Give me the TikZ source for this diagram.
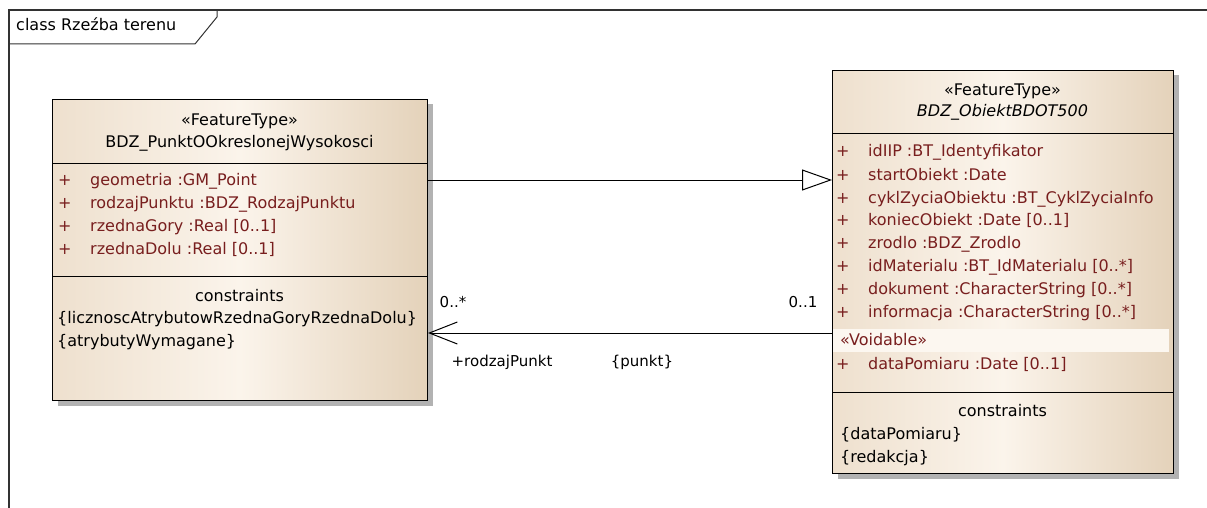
\documentclass[tikz,border=0pt]{standalone}
\usepackage{fontspec}
\setmainfont{DejaVu Sans}
\usetikzlibrary{arrows.meta,shadows}

\definecolor{attrred}{RGB}{120,30,30}
\definecolor{boxlight}{RGB}{251,244,235}
\definecolor{boxedge}{RGB}{238,224,206}
\definecolor{boxdark}{RGB}{228,210,186}
\definecolor{boxband}{RGB}{252,247,240}
\definecolor{framegray}{RGB}{50,50,50}

\begin{document}
\begin{tikzpicture}[x=1pt,y=-1pt,
  every node/.style={font=\fontsize{16}{18}\selectfont, inner sep=0pt, text height=11pt, text depth=3pt},
  classbox/.style={draw, line width=1pt, anchor=north west, rectangle,
    left color=boxedge, right color=boxdark, middle color=boxlight,
    drop shadow={shadow xshift=5pt, shadow yshift=-5pt, fill=black!30, opacity=1}},
  attr/.style={anchor=west, text=attrred},
  plus/.style={anchor=west, text=attrred},
  cons/.style={anchor=west},
  role/.style={font=\fontsize{15}{16}\selectfont}]
\useasboundingbox (0,0) rectangle (1207,508);

% frame
\draw [framegray, line width=1.3pt] (1207,10) -- (9,10) -- (9,508);
\draw [framegray, line width=1pt] (217,10) -- (217,17) -- (195,44) -- (9,44);
\node [anchor=west] (framelabel) at (16,27) {class Rzeźba terenu};

% left class
\node [classbox, minimum width=375pt, minimum height=301pt] (punkt) at (52,99) {};
\draw [line width=1pt] ([yshift=-64pt]punkt.north west) -- ([yshift=-64pt]punkt.north east);
\draw [line width=1pt] ([yshift=-177pt]punkt.north west) -- ([yshift=-177pt]punkt.north east);
\node (punktster) at (239.5,122) {«FeatureType»};
\node (punktname) at (239.5,143) {BDZ\_PunktOOkreslonejWysokosci};
\node [plus] (pp1) at (58,181) {+};
\node [attr] (pa1) at (90,181) {geometria :GM\_Point};
\node [plus] (pp2) at (58,204) {+};
\node [attr] (pa2) at (90,204) {rodzajPunktu :BDZ\_RodzajPunktu};
\node [plus] (pp3) at (58,227) {+};
\node [attr] (pa3) at (90,227) {rzednaGory :Real [0..1]};
\node [plus] (pp4) at (58,250) {+};
\node [attr] (pa4) at (90,250) {rzednaDolu :Real [0..1]};
\node (punktcons) at (239.5,297) {constraints};
\node [cons] (pc1) at (57,319) {\{licznoscAtrybutowRzednaGoryRzednaDolu\}};
\node [cons] (pc2) at (57,342) {\{atrybutyWymagane\}};

% right class
\node [classbox, minimum width=341pt, minimum height=403pt] (obiekt) at (832,70) {};
\draw [line width=1pt] ([yshift=-64pt]obiekt.north west) -- ([yshift=-64pt]obiekt.north east);
\fill [boxband] ([xshift=1pt,yshift=-259pt]obiekt.north west) rectangle ([xshift=-5pt,yshift=-282pt]obiekt.north east);
\draw [line width=1pt] ([yshift=-322pt]obiekt.north west) -- ([yshift=-322pt]obiekt.north east);
\node (obiektster) at (1002.5,92) {«FeatureType»};
\node (obiektname) at (1002.5,113) {\itshape BDZ\_ObiektBDOT500};
\node [plus] (op1) at (836,153) {+};
\node [attr] (oa1) at (868,153) {idIIP :BT\_Identyfikator};
\node [plus] (op2) at (836,176) {+};
\node [attr] (oa2) at (868,176) {startObiekt :Date};
\node [plus] (op3) at (836,199) {+};
\node [attr] (oa3) at (868,199) {cyklZyciaObiektu :BT\_CyklZyciaInfo};
\node [plus] (op4) at (836,221) {+};
\node [attr] (oa4) at (868,221) {koniecObiekt :Date [0..1]};
\node [plus] (op5) at (836,244) {+};
\node [attr] (oa5) at (868,244) {zrodlo :BDZ\_Zrodlo};
\node [plus] (op6) at (836,267) {+};
\node [attr] (oa6) at (868,267) {idMaterialu :BT\_IdMaterialu [0..*]};
\node [plus] (op7) at (836,290) {+};
\node [attr] (oa7) at (868,290) {dokument :CharacterString [0..*]};
\node [plus] (op8) at (836,313) {+};
\node [attr] (oa8) at (868,313) {informacja :CharacterString [0..*]};
\node [attr] (ovoid) at (840,341) {«Voidable»};
\node [plus] (op9) at (836,365) {+};
\node [attr] (oa9) at (868,365) {dataPomiaru :Date [0..1]};
\node (obiektcons) at (1002.5,412) {constraints};
\node [cons] (oc1) at (840,435) {\{dataPomiaru\}};
\node [cons] (oc2) at (840,458) {\{redakcja\}};

% connectors
\coordinate (genrow) at (0,180);
\coordinate (assocrow) at (0,333);
\draw [line width=1pt, -{Triangle[open, length=30pt, width=21pt, fill=white]}] (punkt.east |- genrow) -- (obiekt.west |- genrow);
\draw [line width=1pt, -{Straight Barb[length=28pt, width=22pt]}] (obiekt.west |- assocrow) -- (punkt.east |- assocrow);
\node [role] (multpunkt) at (453,303) {0..*};
\node [role] (multobiekt) at (803,303) {0..1};
\node [role] (rolename) at (502,362) {+rodzajPunkt};
\node [role] (assocname) at (642,362) {\{punkt\}};
\end{tikzpicture}
\end{document}
